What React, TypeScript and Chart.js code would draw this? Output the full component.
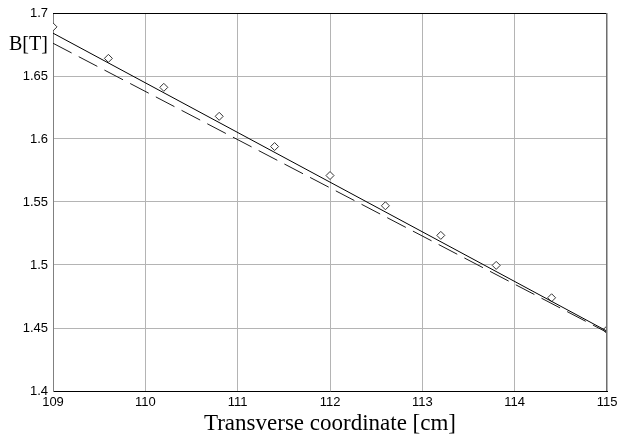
import React, { useEffect, useRef } from "react";
import { Chart, registerables } from "chart.js";

Chart.register(...registerables);

// Measured points (diamonds)
const measuredX = [109, 109.6, 110.2, 110.8, 111.4, 112, 112.6, 113.2, 113.8, 114.4, 115];
const measuredB = [1.689, 1.664, 1.641, 1.618, 1.594, 1.571, 1.547, 1.5235, 1.4997, 1.474, 1.4486];

// Fitted line (solid)
const fitX = [109, 115];
const fitB = [1.684, 1.4475];

// Model line (dashed)
const modelX = [109, 115];
const modelB = [1.676, 1.4465];

const xTicks = [109, 110, 111, 112, 113, 114, 115];
const yTickLabels = ["1.4", "1.45", "1.5", "1.55", "1.6", "1.65", "1.7"];

const xTitle = "Transverse coordinate [cm]";
const yTitle = "B[T]";

const toPts = (xs: number[], ys: number[]) => xs.map((x, i) => ({ x, y: ys[i] }));

export default function App() {
  const ref = useRef<HTMLCanvasElement | null>(null);

  useEffect(() => {
    document.body.style.margin = "0";
    const canvas = ref.current;
    if (!canvas) return;

    const framePlugin = {
      id: "frame",
      afterDatasetsDraw(chart: any) {
        const { ctx, chartArea } = chart;
        const { left, right, top, bottom } = chartArea;
        ctx.save();
        ctx.lineWidth = 1;
        ctx.strokeStyle = "#000000";
        ctx.beginPath();
        ctx.moveTo(left, top + 0.5);
        ctx.lineTo(right, top + 0.5);
        ctx.stroke();
        ctx.strokeStyle = "#6e6e6e";
        ctx.beginPath();
        ctx.moveTo(right - 0.5, top);
        ctx.lineTo(right - 0.5, bottom);
        ctx.stroke();
        ctx.restore();
      },
      afterDraw(chart: any) {
        const { ctx, chartArea } = chart;
        ctx.save();
        ctx.fillStyle = "#000000";
        ctx.font = '23px "Liberation Serif", "Times New Roman", serif';
        ctx.textAlign = "center";
        ctx.textBaseline = "alphabetic";
        ctx.fillText(xTitle, (chartArea.left + chartArea.right) / 2, 430);
        ctx.font = '20px "Liberation Serif", "Times New Roman", serif';
        ctx.textAlign = "left";
        ctx.fillText(yTitle, 9, 50);
        ctx.restore();
      },
    };

    const chart = new Chart(canvas, {
      type: "scatter",
      data: {
        datasets: [
          {
            label: "fit",
            data: toPts(fitX, fitB),
            showLine: true,
            borderColor: "#000000",
            borderWidth: 1,
            pointRadius: 0,
            fill: false,
          },
          {
            label: "model",
            data: toPts(modelX, modelB),
            showLine: true,
            borderColor: "#1a1a1a",
            borderWidth: 1,
            borderDash: [21, 8],
            pointRadius: 0,
            fill: false,
          },
          {
            label: "measured",
            data: toPts(measuredX, measuredB),
            showLine: false,
            pointStyle: "rectRot",
            pointRadius: 4,
            pointBackgroundColor: "#ffffff",
            pointBorderColor: "#333333",
            pointBorderWidth: 1,
          },
        ],
      },
      options: {
        animation: false,
        responsive: false,
        devicePixelRatio: 1,
        layout: { padding: { top: 13, right: 15, left: 0, bottom: 0 } },
        plugins: {
          legend: { display: false },
          tooltip: { enabled: false },
          title: { display: false },
        },
        scales: {
          x: {
            type: "linear",
            min: 109,
            max: 115,
            afterFit: (s: any) => {
              s.height = 52;
            },
            afterBuildTicks: (s: any) => {
              s.ticks = xTicks.map((v) => ({ value: v }));
            },
            ticks: {
              color: "#000000",
              font: { family: '"Liberation Sans", Arial, sans-serif', size: 13 },
              padding: 4,
              maxRotation: 0,
              autoSkip: false,
              callback: (v: any) => String(v),
            },
            grid: { color: "#b4b4b4", lineWidth: 1, drawTicks: false },
            border: { color: "#000000", width: 1 },
          },
          y: {
            type: "linear",
            min: 1.4,
            max: 1.7,
            afterFit: (s: any) => {
              s.width = 53;
            },
            afterBuildTicks: (s: any) => {
              s.ticks = yTickLabels.map((t) => ({ value: parseFloat(t) }));
            },
            ticks: {
              color: "#000000",
              font: { family: '"Liberation Sans", Arial, sans-serif', size: 13 },
              padding: 5,
              autoSkip: false,
              callback: (v: any) => {
                const found = yTickLabels.find((t) => Math.abs(parseFloat(t) - v) < 1e-6);
                return found ?? String(v);
              },
            },
            grid: { color: "#b4b4b4", lineWidth: 1, drawTicks: false },
            border: { color: "#808080", width: 1 },
          },
        },
      },
      plugins: [framePlugin],
    } as any);

    return () => chart.destroy();
  }, []);

  return (
    <div style={{ position: "fixed", left: 0, top: 0, width: 622, height: 443, background: "#fff" }}>
      <canvas ref={ref} width={622} height={443} style={{ width: 622, height: 443 }} />
    </div>
  );
}
